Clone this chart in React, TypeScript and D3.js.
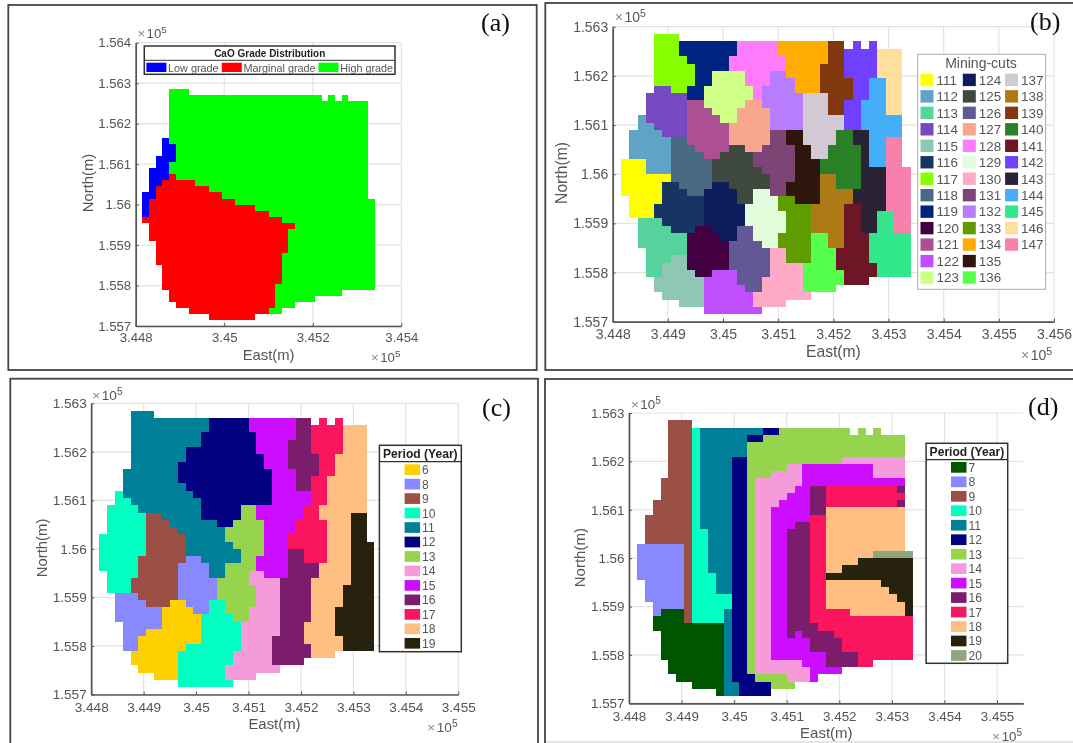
import { useEffect, useRef } from "react";
import * as d3 from "d3";

// block model grid: 35 columns x 38 rows of 15 m blocks
const gridEast = 344815;
const gridNorth = 156285;
const blockSize = 15;

// each row: "<start column><key>" runs, "." = no block
const gradeRows = [
  "4G 7.",
  "4G 27. 28G 29. 30G 31.",
  "4G 34.", "4G 34.", "4G 34.", "4G 34.", "4G 34.", "4G 34.",
  "3B 4G 34.",
  "3B 5G 34.",
  "3B 5G 34.",
  "2B 5G 34.",
  "2B 4G 34.",
  "1B 4G 34.",
  "1B 4R 5G 34.",
  "1B 3R 8G 34.",
  "1B 2R 10G 34.",
  "0B 2R 12G 34.",
  "0B 1R 14G 35.",
  "0B 1R 17G 35.",
  "0B 1R 19G 35.",
  "0R 21G 35.",
  "1R 23G 35.",
  "1R 22G 35.",
  "1R 22G 35.",
  "2R 22G 35.",
  "2R 22G 35.",
  "2R 21G 35.",
  "2R 21G 35.",
  "3R 21G 35.",
  "3R 21G 35.",
  "3R 21G 35.",
  "3R 20G 35.",
  "4R 20G 30.",
  "4R 20G 26.",
  "5R 20G 23.",
  "7R 19G 21.",
  "10R 17.",
];

const cutRows = [
  "4g 7.",
  "4g 7i 14r 19x 25C 27. 28F 29. 30F 31.",
  "4g 7i 14r 19x 25C 27F 31J 34.",
  "4g 8i 13r 20x 25C 27F 31J 34.",
  "4g 9i 13r 20x 24C 27F 31J 34.",
  "4g 9i 11m 15r 18v 20x 24C 27F 31J 34.",
  "4g 9i 11m 15r 18v 21x 24C 28F 30H 32J 34.",
  "4d 6g 8i 10m 16r 17v 21x 24C 28F 30H 32J 34.",
  "3d 8i 10m 16r 17v 22A 25C 28F 30H 32J 34.",
  "3d 8k 10m 15q 17v 22A 25C 27F 29H 32J 34.",
  "3d 8k 11m 14q 18v 22A 25C 27F 29H 32J 34.",
  "2b 3d 8k 12m 14q 18v 22A 27F 29H 34.",
  "2b 4d 8k 13q 18v 22A 27F 29H 34.",
  "1b 5d 8k 13q 18u 20y 22A 26D 28G 30H 34.",
  "1b 6h 8k 13q 18u 20y 22A 26D 28G 30H 32K 34.",
  "1b 6h 9k 13o 15q 17u 21y 23A 25D 29G 30H 32K 34.",
  "1b 6h 10k 12o 16u 21y 23A 25D 29G 30H 32K 34.",
  "0a 3b 6h 11o 16u 21y 24D 29G 30H 32K 34.",
  "0a 3b 6h 11o 17u 21y 24D 29G 32K 35.",
  "0a 6h 11o 18u 21y 24B 26D 29G 32K 35.",
  "0a 5f 7h 11n 13o 18u 20y 24B 26D 29G 32K 35.",
  "0a 5f 8h 10n 14o 16s 18u 20y 24B 28G 32K 35.",
  "1a 5f 10n 14o 16s 19w 21y 24B 28G 32K 35.",
  "1a 4f 10n 15s 19w 23B 27E 29G 32K 35.",
  "1a 4f 10n 15s 20w 23B 27E 29G 31I 33K 35.",
  "2c 5f 10n 15s 20w 23B 27E 29G 31I 33K 35.",
  "2c 6f 9j 11n 14p 16s 20w 23B 27E 29G 31I 33K 35.",
  "2c 8j 12n 14p 16s 19w 23z 25B 27E 30I 35.",
  "2c 8j 13p 17s 19w 23z 25B 27E 30I 35.",
  "3c 8j 13p 18t 20w 23z 26E 30I 35.",
  "3c 6e 8j 13p 18t 20w 23z 26E 30I 35.",
  "3c 5e 8j 13p 18t 22z 26E 31I 35.",
  "3c 5e 9j 11l 14p 18t 22z 27E 31I 35.",
  "4e 10l 14p 17t 22z 27E 30.",
  "4e 10l 15p 17t 22z 26.",
  "5e 10l 16t 23.",
  "7e 10l 16t 20.",
  "10l 17.",
];

const scheduleCRows = [
  "4e 7.",
  "4e 14f 19i 25j 27. 28k 29. 30k 31.",
  "4e 14f 19i 25j 27k 31l 34.",
  "4e 13f 20i 25j 27k 31l 34.",
  "4e 13f 20i 24j 27k 31l 34.",
  "4e 11f 20i 24j 27k 31l 34.",
  "4e 11f 21i 24j 28k 30l 34.",
  "4e 10f 21i 24j 28k 30l 34.",
  "3e 10f 22i 25j 28k 30l 34.",
  "3e 10f 22i 25j 27k 29l 34.",
  "3e 11f 22i 25j 27k 29l 34.",
  "2d 3e 12f 22i 27k 29l 34.",
  "2d 4e 13f 22i 27k 29l 34.",
  "1d 5e 13f 18g 20i 26k 28l 34.",
  "1d 6c 8e 13f 18g 20i 26k 28l 32m 34.",
  "1d 6c 9e 15f 17g 21i 25k 29l 32m 34.",
  "1d 6c 10e 16g 21i 25k 29l 32m 34.",
  "0d 6c 11e 16g 21i 24k 29l 32m 34.",
  "0d 6c 11e 17g 21i 24k 29l 32m 35.",
  "0d 6c 11e 18g 21i 24j 26k 29l 32m 35.",
  "0d 5c 11b 13e 18g 20i 24j 26k 29l 32m 35.",
  "0d 5c 10b 14e 16g 20i 24j 28l 32m 35.",
  "1d 5c 10b 14e 16g 19h 21i 24j 28l 32m 35.",
  "1d 4c 10b 15g 19h 23j 27l 32m 35.",
  "1d 4c 10b 15g 20h 23j 27l 31m 35.",
  "2b 5c 10b 15g 20h 23j 27l 31m 35.",
  "2b 6c 9a 11b 14d 16g 20h 23j 27l 31m 35.",
  "2b 8a 12b 14d 16g 19h 23j 27l 30m 35.",
  "2b 8a 13d 17g 19h 23j 27l 30m 35.",
  "3b 8a 13d 18h 23j 26l 30m 35.",
  "3b 6a 13d 18h 23j 26l 30m 35.",
  "3b 5a 13d 18h 22j 26l 31m 35.",
  "3b 5a 11d 18h 22j 27l 31m 35.",
  "4a 10d 17h 22j 27l 30.",
  "4a 10d 17h 22j 26.",
  "5a 10d 16h 23.",
  "7a 10d 16h 20.",
  "10d 17.",
];

const scheduleDRows = [
  "4c 7.",
  "4c 7d 8e 16f 18g 27. 28g 29. 30g 31.",
  "4c 7d 8e 14f 16g 34.",
  "4c 7d 8e 14g 34.",
  "4c 7d 8e 14g 34.",
  "4c 7d 8e 12f 14g 26h 34.",
  "4c 7d 8e 12f 14g 19h 21i 30h 34.",
  "4c 7d 8e 12f 14g 17h 21i 30h 34.",
  "3c 7d 8e 12f 14g 15h 21i 34.",
  "3c 7d 8e 12f 14g 15h 20i 22j 24k 33j 34.",
  "3c 7d 8e 12f 14g 15h 19i 22j 24k 34.",
  "2c 7d 8e 12f 14g 15h 18i 22j 24k 33j 34.",
  "2c 7d 8e 12f 14g 15h 17i 22j 24l 34.",
  "1c 7d 8e 12f 14g 15h 17i 22k 24l 34.",
  "1c 7d 8e 12f 14g 15h 17i 20j 22k 24l 34.",
  "1c 7d 9e 12f 14g 15h 17i 19j 22k 24l 34.",
  "1c 7d 9e 12f 14g 15h 17i 19j 22k 24l 34.",
  "0b 6c 7d 9e 12f 14g 15h 17i 19j 22k 24l 34.",
  "0b 6c 7d 9e 12f 14g 15h 17i 19j 22k 24l 30o 35.",
  "0b 6c 7d 9e 12f 14g 15h 17i 19j 22k 24l 28m 35.",
  "0b 6c 7d 9e 12f 14g 15h 17i 19j 22k 24l 26m 35.",
  "0b 6c 7d 10e 12f 14g 15h 17i 19j 22k 24m 35.",
  "1b 6c 7d 10e 12f 14g 15h 17i 19j 22k 24l 31m 35.",
  "1b 6c 7d 10e 12f 14g 15h 17i 19j 22k 24l 32m 35.",
  "1b 6c 7d 12f 14g 15h 17i 19j 22k 24l 33m 35.",
  "2b 6c 7d 12f 14g 15h 17i 19j 22k 24l 34m 35.",
  "2b 3n 6c 7d 11e 12f 14g 15h 17i 19j 22k 27l 34m 35.",
  "2n 6c 7d 11e 12f 14g 15h 17i 19j 22k 35.",
  "2n 11e 12f 14g 15h 17i 19j 23k 35.",
  "3n 11e 12f 14g 15h 17i 19j 20i 21j 25k 35.",
  "3n 11e 12f 14g 15h 17i 22j 26k 35.",
  "3n 11e 12f 14g 15h 17i 22j 26k 35.",
  "3n 11e 12f 14g 15h 17i 24j 28k 35.",
  "4n 11e 12f 14g 15h 21i 24j 28k 30.",
  "4n 11e 12f 14g 15h 22i 26.",
  "5n 11e 12f 15g 19h 22i 23.",
  "7n 11e 13f 17g 20.",
  "10n 11e 13f 17.",
];

// legend order, keys and colours
const gradeKeys = ["B", "R", "G"];
const gradeLabels = ["Low grade", "Marginal grade", "High grade"];
const gradeColors = ["#0000ff", "#ff0000", "#00ff00"];

const cutKeys = "abcdefghijklmnopqrstuvwxyzABCDEFGHIJK".split("");
const cutLabels = d3.range(111, 148).map(String);
const cutColors = [
  "#ffff00", "#5fa3c7", "#57d29c", "#7448c0", "#8ec8b5", "#153462", "#87ff00", "#466a82",
  "#022480", "#430040", "#ac4f93", "#bf50ff", "#d0ff88", "#0a1b5b", "#3f4a40", "#625995",
  "#f8a68e", "#ff7bff", "#e2fcdc", "#ffabc8", "#7c4574", "#b77bff", "#5f9c00", "#ffab00",
  "#2d130a", "#55ff4c", "#d2c9d4", "#ae7a15", "#81390a", "#2b8026", "#6c1226", "#703fff",
  "#2c2335", "#45aef8", "#33e68b", "#ffdf9d", "#f780ad",
];

const periodKeys = ["a", "n", "b", "c", "d", "e", "f", "g", "h", "i", "j", "k", "l", "m", "o"];
const periodLabels = ["6", "7", "8", "9", "10", "11", "12", "13", "14", "15", "16", "17", "18", "19", "20"];
const periodColors = [
  "#ffd000", "#025502", "#8888ff", "#9c4f45", "#00ffc0", "#008098", "#000080", "#96d44e",
  "#f59bdb", "#cc10ff", "#7c1a6c", "#f9145f", "#ffbe82", "#27240b", "#8ea67a",
];
const periodsC = ["6", "8", "9", "10", "11", "12", "13", "14", "15", "16", "17", "18", "19"];
const periodsD = ["7", "8", "9", "10", "11", "12", "13", "14", "15", "16", "17", "18", "19", "20"];

const xTicksA = [344800, 345000, 345200, 345400];
const yTicksA = [155700, 155800, 155900, 156000, 156100, 156200, 156300, 156400];
const xTicksB = [344800, 344900, 345000, 345100, 345200, 345300, 345400, 345500, 345600];
const xTicksC = [344800, 344900, 345000, 345100, 345200, 345300, 345400, 345500];
const yTicksB = [155700, 155800, 155900, 156000, 156100, 156200, 156300];

const font = "'Liberation Sans', Arial, sans-serif";
const textGrey = "#555";

const toColor = (keys: string[], colors: string[]) =>
  new Map(keys.map((k, i) => [k, colors[i]]));

const panels = [
  {
    letter: "(a)", frame: [8.3, 5, 536.7, 370], letterAt: [481, 31],
    rows: gradeRows, color: toColor(gradeKeys, gradeColors),
    x: [135.7, 401.3], y: [326, 42.7], xDomain: [344800, 345400], yDomain: [155700, 156400],
    xTicks: xTicksA, yTicks: yTicksA, tickSize: 13.2, labelSize: 14.8, xPad: 6.8,
    east: [268.6, 360], north: [93, 183], topExp: [137.4, 38], botExp: [371, 362],
  },
  {
    letter: "(b)", frame: [545.3, 3, 1085, 370], letterAt: [1030, 30],
    rows: cutRows, color: toColor(cutKeys, cutColors),
    x: [612.7, 1054], y: [321.7, 26.7], xDomain: [344800, 345600], yDomain: [155700, 156300],
    xTicks: xTicksB, yTicks: yTicksB, tickSize: 14, labelSize: 15.7, xPad: 7.6,
    east: [833.4, 356.7], north: [566.5, 173], topExp: [614.8, 22], botExp: [1021, 360],
  },
  {
    letter: "(c)", frame: [10.3, 378.7, 538, 760], letterAt: [482, 416],
    rows: scheduleCRows, color: toColor(periodKeys, periodColors),
    x: [91.2, 458.3], y: [694.5, 403.3], xDomain: [344800, 345500], yDomain: [155700, 156300],
    xTicks: xTicksC, yTicks: yTicksB, tickSize: 13.6, labelSize: 14.9, xPad: 8,
    east: [274.5, 729], north: [47.2, 548], topExp: [92.3, 400], botExp: [427.3, 732.3],
  },
  {
    letter: "(d)", frame: [545, 379, 1085, 760], letterAt: [1028, 415],
    rows: scheduleDRows, color: toColor(periodKeys, periodColors),
    x: [629, 1023.3], y: [703.3, 413], xDomain: [344800, 345550], yDomain: [155700, 156300],
    xTicks: xTicksC, yTicks: yTicksB, tickSize: 13.4, labelSize: 15, xPad: 8.2,
    east: [826.3, 738], north: [584.9, 557.7], topExp: [631, 409], botExp: [992.3, 740.7],
  },
];

// "4e 14f 19." -> [{start: 4, end: 14, key: "e"}, {start: 14, end: 19, key: "f"}]
function parseRow(row: string) {
  const tokens = row.split(" ").map((t) => ({ col: parseInt(t), key: t.slice(-1) }));
  return tokens.slice(0, -1).map((t, i) => ({ start: t.col, end: tokens[i + 1].col, key: t.key }))
    .filter((r) => r.key !== ".");
}

function exponent(g: any, x: number, y: number, size: number) {
  const t = g.append("text").attr("x", x).attr("y", y)
    .attr("font-family", font).attr("font-size", size).attr("fill", textGrey);
  t.append("tspan").attr("fill", "#888").text("×");
  t.append("tspan").attr("dx", 1.5).text("10");
  t.append("tspan").attr("dy", -5).attr("font-size", size * 0.75).text("5");
}

function drawPanel(svg: any, p: any) {
  const g = svg.append("g");
  const [fx0, fy0, fx1, fy1] = p.frame;
  g.append("rect").attr("x", fx0).attr("y", fy0).attr("width", fx1 - fx0).attr("height", fy1 - fy0)
    .attr("fill", "#fff").attr("stroke", "#444").attr("stroke-width", 1.8);

  const x = d3.scaleLinear().domain(p.xDomain).range(p.x);
  const y = d3.scaleLinear().domain(p.yDomain).range(p.y);

  // grid
  g.append("g").selectAll("line").data(p.xTicks).join("line")
    .attr("x1", (d: number) => x(d)).attr("x2", (d: number) => x(d))
    .attr("y1", p.y[0]).attr("y2", p.y[1]).attr("stroke", "#e3e3e3").attr("stroke-width", 1.2);
  g.append("g").selectAll("line").data(p.yTicks).join("line")
    .attr("x1", p.x[0]).attr("x2", p.x[1])
    .attr("y1", (d: number) => y(d)).attr("y2", (d: number) => y(d))
    .attr("stroke", "#e3e3e3").attr("stroke-width", 1.2);

  // blocks
  const runs = p.rows.flatMap((row: string, r: number) =>
    parseRow(row).map((run) => ({ ...run, r })));
  g.append("g").attr("shape-rendering", "crispEdges").selectAll("rect").data(runs).join("rect")
    .attr("x", (d: any) => x(gridEast + d.start * blockSize))
    .attr("width", (d: any) => x(gridEast + d.end * blockSize) - x(gridEast + d.start * blockSize))
    .attr("y", (d: any) => y(gridNorth - d.r * blockSize))
    .attr("height", (d: any) => y(gridNorth - (d.r + 1) * blockSize) - y(gridNorth - d.r * blockSize))
    .attr("fill", (d: any) => p.color.get(d.key));

  // axes
  const xAxis = d3.axisBottom(x).tickValues(p.xTicks).tickSizeInner(-3).tickSizeOuter(0).tickPadding(p.xPad)
    .tickFormat((d: any) => String(+(d / 1e5).toFixed(3)));
  const yAxis = d3.axisLeft(y).tickValues(p.yTicks).tickSizeInner(-3).tickSizeOuter(0).tickPadding(4.5)
    .tickFormat((d: any) => String(+(d / 1e5).toFixed(3)));
  for (const a of [
    g.append("g").attr("transform", `translate(0,${p.y[0]})`).call(xAxis),
    g.append("g").attr("transform", `translate(${p.x[0]},0)`).call(yAxis),
  ]) {
    a.select(".domain").attr("stroke", "#555").attr("stroke-width", 1.7);
    a.selectAll("line").attr("stroke", "#555");
    a.selectAll("text").attr("font-family", font).attr("font-size", p.tickSize).attr("fill", textGrey);
  }

  // labels
  g.append("text").attr("x", p.east[0]).attr("y", p.east[1]).attr("text-anchor", "middle")
    .attr("font-family", font).attr("font-size", p.labelSize).attr("fill", textGrey).text("East(m)");
  g.append("text").attr("transform", `translate(${p.north[0]},${p.north[1]}) rotate(-90)`)
    .attr("text-anchor", "middle")
    .attr("font-family", font).attr("font-size", p.labelSize).attr("fill", textGrey).text("North(m)");
  exponent(g, p.topExp[0], p.topExp[1], p.tickSize);
  exponent(g, p.botExp[0], p.botExp[1], p.tickSize);
  g.append("text").attr("x", p.letterAt[0]).attr("y", p.letterAt[1])
    .attr("font-family", "'Liberation Serif', serif").attr("font-size", 26).attr("fill", "#111")
    .text(p.letter);
}

function boxLegend(svg: any, box: number[], divider: number, title: string, swatchX: number, firstY: number, labels: string[]) {
  const g = svg.append("g");
  g.append("rect").attr("x", box[0]).attr("y", box[1]).attr("width", box[2] - box[0]).attr("height", box[3] - box[1])
    .attr("fill", "#fff").attr("stroke", "#333").attr("stroke-width", 1.5);
  g.append("line").attr("x1", box[0]).attr("x2", box[2]).attr("y1", divider).attr("y2", divider)
    .attr("stroke", "#333").attr("stroke-width", 1.2);
  g.append("text").attr("x", (box[0] + box[2]) / 2).attr("y", divider - 3.5).attr("text-anchor", "middle")
    .attr("font-family", font).attr("font-weight", "bold").attr("font-size", 12.1).attr("fill", "#222").text(title);
  const row = d3.scaleLinear().domain([0, 1]).range([firstY, firstY + 14.47]);
  labels.forEach((label, i) => {
    g.append("rect").attr("x", swatchX).attr("y", row(i)).attr("width", 15.5).attr("height", 10.7)
      .attr("fill", periodColors[periodLabels.indexOf(label)]);
    g.append("text").attr("x", swatchX + 17.5).attr("y", row(i) + 9.8)
      .attr("font-family", font).attr("font-size", 12.1).attr("fill", textGrey).text(label);
  });
}

function gradeLegend(svg: any) {
  const g = svg.append("g");
  g.append("rect").attr("x", 144.3).attr("y", 46).attr("width", 250.7).attr("height", 28.3)
    .attr("fill", "#fff").attr("stroke", "#333").attr("stroke-width", 1.5);
  g.append("line").attr("x1", 144.3).attr("x2", 395).attr("y1", 60.3).attr("y2", 60.3)
    .attr("stroke", "#333").attr("stroke-width", 1);
  g.append("text").attr("x", 269.7).attr("y", 57).attr("text-anchor", "middle")
    .attr("font-family", font).attr("font-weight", "bold").attr("font-size", 10).attr("fill", "#222")
    .text("CaO Grade Distribution");
  const starts = [146.4, 221.8, 318.5];
  gradeLabels.forEach((label, i) => {
    g.append("rect").attr("x", starts[i]).attr("y", 62.7).attr("width", 20).attr("height", 9.3).attr("fill", gradeColors[i]);
    g.append("text").attr("x", starts[i] + 21.7).attr("y", 71.5)
      .attr("font-family", font).attr("font-size", 10.8).attr("fill", textGrey).text(label);
  });
}

function cutLegend(svg: any) {
  const g = svg.append("g");
  g.append("rect").attr("x", 917.7).attr("y", 54.3).attr("width", 127.9).attr("height", 235)
    .attr("fill", "#fff").attr("stroke", "#aaa").attr("stroke-width", 1);
  g.append("text").attr("x", 981).attr("y", 68).attr("text-anchor", "middle")
    .attr("font-family", font).attr("font-size", 14).attr("fill", textGrey).text("Mining-cuts");
  const col = d3.scaleLinear().domain([0, 1]).range([920.5, 962.8]);
  const row = d3.scaleLinear().domain([0, 1]).range([73.7, 90.17]);
  cutLabels.forEach((label, i) => {
    const c = Math.floor(i / 13);
    const r = i % 13;
    g.append("rect").attr("x", col(c)).attr("y", row(r)).attr("width", 13).attr("height", 12.4).attr("fill", cutColors[i]);
    g.append("text").attr("x", col(c) + 16).attr("y", row(r) + 11)
      .attr("font-family", font).attr("font-size", 13.4).attr("fill", textGrey).text(label);
  });
}

export default function App() {
  const ref = useRef<SVGSVGElement>(null);

  useEffect(() => {
    const svg = d3.select(ref.current);
    svg.selectAll("*").remove();
    const defs = svg.append("defs");
    defs.append("filter").attr("id", "soft").append("feGaussianBlur").attr("stdDeviation", 0.55);
    const root = svg.append("g").attr("filter", "url(#soft)");
    root.append("rect").attr("width", 1073).attr("height", 743).attr("fill", "#fff");
    panels.forEach((p) => drawPanel(root, p));
    root.append("line").attr("x1", 546).attr("x2", 1073).attr("y1", 742).attr("y2", 742)
      .attr("stroke", "#ddd").attr("stroke-width", 1.5);
    gradeLegend(root);
    cutLegend(root);
    boxLegend(root, [379.4, 445.3, 461.3, 651.7], 461.7, "Period (Year)", 404.6, 464.3, periodsC);
    boxLegend(root, [926.1, 443.3, 1007.7, 663.3], 459.7, "Period (Year)", 951, 462, periodsD);
  }, []);

  return (
    <svg
      ref={ref}
      width={1073}
      height={743}
      style={{ position: "absolute", left: 0, top: 0 }}
    />
  );
}
